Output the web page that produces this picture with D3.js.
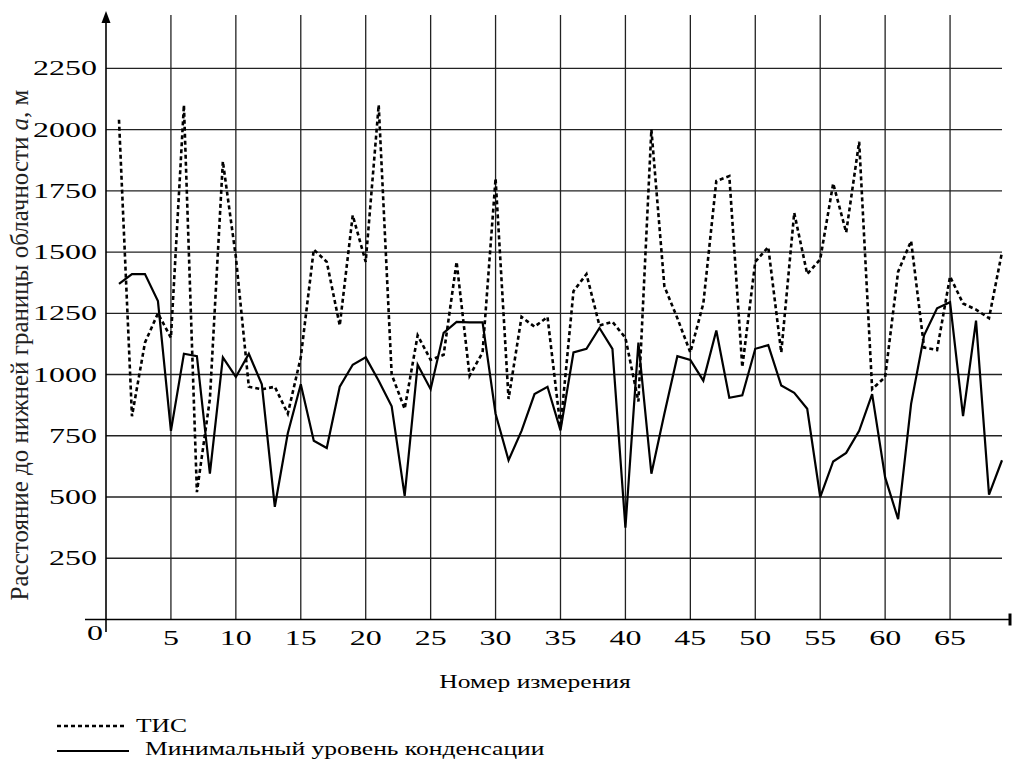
<!DOCTYPE html>
<html>
<head>
<meta charset="utf-8">
<script src="https://cdn.jsdelivr.net/npm/d3@7"></script>
<style>
  body { margin: 0; background: #fff; }
  svg { display: block; }
  text { font-family: "Liberation Serif", "Times New Roman", "DejaVu Serif", serif; }
</style>
</head>
<body>
<svg id="chart"></svg>
<script>
// Measurement numbers 1..69
var measurementNumbers = d3.range(1, 70);

// ТИС (dashed series), metres
var tisValues = [2040, 830, 1130, 1250, 1150, 2100, 520, 900, 1870, 1480,
  950, 940, 950, 840, 1070, 1510, 1460, 1200, 1650, 1460,
  2100, 1000, 860, 1160, 1060, 1080, 1460, 995, 1090, 1800,
  900, 1235, 1195, 1235, 785, 1340, 1410, 1200, 1215, 1150,
  890, 2000, 1360, 1230, 1090, 1290, 1790, 1810, 1030, 1460,
  1520, 1090, 1660, 1410, 1470, 1780, 1580, 1950, 940, 990,
  1420, 1545, 1110, 1100, 1400, 1290, 1265, 1230, 1500];

// Минимальный уровень конденсации (solid series), metres
var condensationValues = [1370, 1410, 1410, 1300, 770, 1085, 1075, 595, 1070, 990,
  1085, 960, 460, 760, 960, 730, 700, 950, 1040, 1070,
  975, 870, 505, 1040, 940, 1170, 1215, 1213, 1213, 840,
  650, 770, 920, 950, 772, 1090, 1105, 1190, 1105, 375,
  1130, 595, 840, 1075, 1060, 975, 1180, 905, 915, 1105,
  1120, 955, 925, 860, 500, 645, 680, 770, 920, 580,
  410, 880, 1160, 1270, 1295, 830, 1220, 510, 650];

var xTickValues = [5, 10, 15, 20, 25, 30, 35, 40, 45, 50, 55, 60, 65];
var yTickValues = [250, 500, 750, 1000, 1250, 1500, 1750, 2000, 2250];

var legendLabels = ['ТИС', 'Минимальный уровень конденсации'];
var xAxisTitle = 'Номер измерения';

var config = {
  svgWidth: 1012,
  svgHeight: 764,
  plotLeft: 106,
  plotRight: 1002,
  plotBottom: 619.5,
  plotTop250: 68.3, // pixel of the 2250 gridline
  gridTop: 15,
  axisLeftExtent: 85,
  axisRightExtent: 1010,
  yAxisBottomExtent: 632,
  arrowTip: 11,
  fontFamily: '"Liberation Serif", "Times New Roman", "DejaVu Serif", serif',
  tickFontSize: 20,
  tickStretch: 1.6, // the source picture is stretched sideways, so the lettering is wide
  labelFontSize: 18,
  labelStretch: 1.42,
  gridColor: '#222',
};

var svg = d3.select('#chart')
  .attr('width', config.svgWidth)
  .attr('height', config.svgHeight)
  .attr('font-family', config.fontFamily);

var x = d3.scaleLinear()
  .domain([0, 69])
  .range([config.plotLeft, config.plotRight]);

var y = d3.scaleLinear()
  .domain([0, 2250])
  .range([config.plotBottom, config.plotTop250]);

// Adds a horizontally stretched text at (px, py)
function wideText(parent, px, py, str, anchor, size, stretch) {
  return parent.append('text')
    .attr('transform', 'translate(' + px + ',' + py + ') scale(' + stretch + ',1)')
    .attr('text-anchor', anchor)
    .attr('font-size', size)
    .attr('fill', '#000')
    .text(str);
}

// Grid
var grid = svg.append('g').attr('stroke', config.gridColor).attr('stroke-width', 1.3);
grid.selectAll('.hgrid')
  .data(yTickValues)
  .enter().append('line')
  .attr('x1', config.plotLeft)
  .attr('x2', config.plotRight)
  .attr('y1', function(d) { return y(d); })
  .attr('y2', function(d) { return y(d); });
grid.selectAll('.vgrid')
  .data(xTickValues)
  .enter().append('line')
  .attr('x1', function(d) { return x(d); })
  .attr('x2', function(d) { return x(d); })
  .attr('y1', config.plotBottom)
  .attr('y2', config.gridTop);

// Axes lines
svg.append('line')
  .attr('x1', config.axisLeftExtent).attr('x2', config.axisRightExtent)
  .attr('y1', config.plotBottom).attr('y2', config.plotBottom)
  .attr('stroke', '#000').attr('stroke-width', 1.6);
svg.append('line')
  .attr('x1', config.axisRightExtent).attr('x2', config.axisRightExtent)
  .attr('y1', config.plotBottom - 6).attr('y2', config.plotBottom + 6)
  .attr('stroke', '#000').attr('stroke-width', 3);
svg.append('line')
  .attr('x1', config.plotLeft).attr('x2', config.plotLeft)
  .attr('y1', config.yAxisBottomExtent).attr('y2', config.arrowTip + 8)
  .attr('stroke', '#000').attr('stroke-width', 1.6);
svg.append('path')
  .attr('d', 'M' + config.plotLeft + ',' + config.arrowTip +
    'L' + (config.plotLeft - 4.5) + ',' + (config.arrowTip + 12) +
    'L' + (config.plotLeft + 4.5) + ',' + (config.arrowTip + 12) + 'Z')
  .attr('fill', '#000');

// Tick labels
yTickValues.forEach(function(d) {
  wideText(svg, 97, y(d) + 7, d, 'end', config.tickFontSize, config.tickStretch);
});
xTickValues.forEach(function(d) {
  wideText(svg, x(d), 645, d, 'middle', config.tickFontSize, config.tickStretch);
});
wideText(svg, 95, 640, '0', 'middle', config.tickFontSize, config.tickStretch);

// Axis titles
wideText(svg, 535, 688, xAxisTitle, 'middle', config.labelFontSize, config.labelStretch);
var yTitle = svg.append('text')
  .attr('transform', 'translate(28,' + 345 + ') rotate(-90)')
  .attr('text-anchor', 'middle')
  .attr('font-size', 25)
  .attr('fill', '#222');
yTitle.append('tspan').text('Расстояние до нижней границы облачности ');
yTitle.append('tspan').attr('font-style', 'italic').text('a');
yTitle.append('tspan').text(', м');

// Lines
var seriesLine = d3.line()
  .x(function(d, i) { return x(measurementNumbers[i]); })
  .y(function(d) { return y(d); });

svg.append('path')
  .attr('d', seriesLine(condensationValues))
  .attr('fill', 'none')
  .attr('stroke', '#000')
  .attr('stroke-width', 2.2)
  .attr('stroke-linejoin', 'miter');
svg.append('path')
  .attr('d', seriesLine(tisValues))
  .attr('fill', 'none')
  .attr('stroke', '#000')
  .attr('stroke-width', 2.6)
  .attr('stroke-dasharray', '4,3');

// Legend
var legend = svg.append('g');
legend.append('line')
  .attr('x1', 57).attr('x2', 126).attr('y1', 726).attr('y2', 726)
  .attr('stroke', '#000').attr('stroke-width', 2.6).attr('stroke-dasharray', '4,3');
wideText(legend, 136, 732, legendLabels[0], 'start', config.labelFontSize, config.labelStretch);
legend.append('line')
  .attr('x1', 57).attr('x2', 129).attr('y1', 751).attr('y2', 751)
  .attr('stroke', '#000').attr('stroke-width', 2.2);
wideText(legend, 145, 755, legendLabels[1], 'start', config.labelFontSize, config.labelStretch);
</script>
</body>
</html>
